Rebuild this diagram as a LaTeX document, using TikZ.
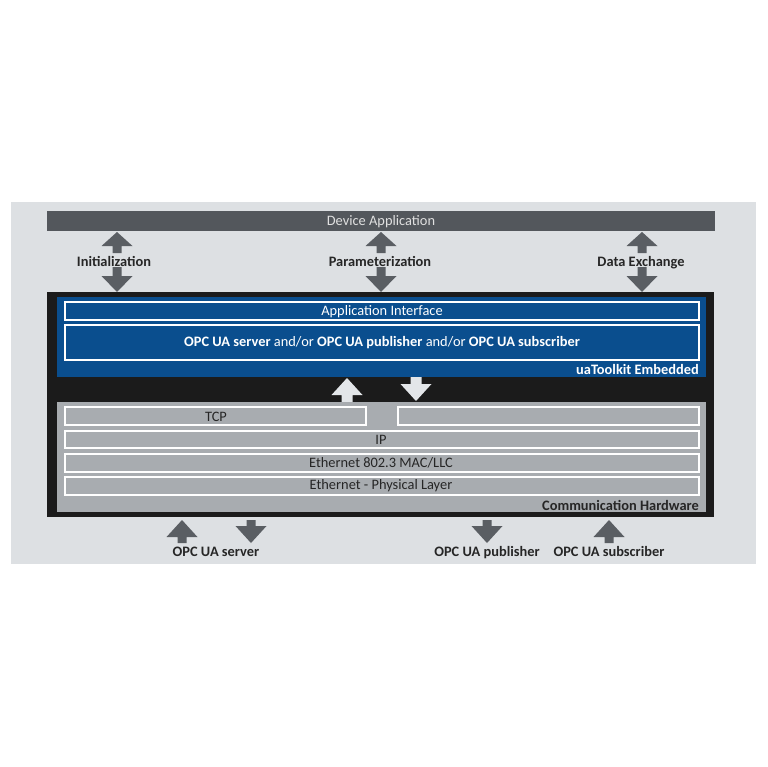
\documentclass[tikz,border=0pt]{standalone}
\usepackage{fontspec}
\setmainfont{Carlito}
\definecolor{panel}{HTML}{DDE0E3}
\definecolor{devbar}{HTML}{53575C}
\definecolor{arrgray}{HTML}{5A5E63}
\definecolor{blackbox}{HTML}{1B1B1B}
\definecolor{uablue}{HTML}{0A4E8E}
\definecolor{hwgray}{HTML}{A8ACB0}
\definecolor{lightarr}{HTML}{E3E6E9}
\definecolor{labeltxt}{HTML}{262626}
\newcommand{\uparrowat}[7]{% x, tip, headbase, bottom, halfhead, halfshaft, color
  \fill[#7] (#1,#2) -- ({#1+#5},#3) -- ({#1+#6},#3) -- ({#1+#6},#4) -- ({#1-#6},#4) -- ({#1-#6},#3) -- ({#1-#5},#3) -- cycle;}
\newcommand{\downarrowat}[7]{% x, top, headbase, tip, halfhead, halfshaft, color
  \fill[#7] (#1,#4) -- ({#1+#5},#3) -- ({#1+#6},#3) -- ({#1+#6},#2) -- ({#1-#6},#2) -- ({#1-#6},#3) -- ({#1-#5},#3) -- cycle;}
\tikzset{
  fs/.style={font=\fontsize{14.4}{16}\selectfont},
  fsb/.style={font=\fontsize{14.4}{16}\selectfont\bfseries},
  lbl/.style={fsb, text=labeltxt, inner sep=0pt, anchor=base},
  row/.style={draw=white, line width=1.6pt, inner sep=0pt},
}
\begin{document}
\begin{tikzpicture}[x=1pt,y=-1pt]
\useasboundingbox (0,0) rectangle (767,767);
\fill[white] (0,0) rectangle (767,767);
% panel
\fill[panel] (11,202) rectangle (756,564);
% device application bar
\fill[devbar] (47,211) rectangle (715,231);
\node[fs, text=white!88!black, inner sep=0pt] (dev) at (381,221.5) {Device Application};
% top arrows and labels
\foreach \xx in {117,381,642}{
  \uparrowat{\xx}{232}{246}{253}{15.5}{4.5}{arrgray}
  \downarrowat{\xx}{267}{276}{292}{15.5}{4.5}{arrgray}
}
\node[lbl] (init) at (114,266.5) {Initialization};
\node[lbl] (param) at (380,266.5) {Parameterization};
\node[lbl] (dx) at (641,266.5) {Data Exchange};
% black box
\fill[blackbox] (47,292) rectangle (714,517);
% blue box
\fill[uablue] (57,297) rectangle (706,377);
\draw[row] (65,302) rectangle (699,320);
\node[fs, text=white, inner sep=0pt] (api) at (382,311.5) {Application Interface};
\draw[row] (65,325) rectangle (699,360);
\node[fs, text=white, inner sep=0pt] (opc) at (382,343) {\textbf{OPC UA server} and/or \textbf{OPC UA publisher} and/or \textbf{OPC UA subscriber}};
\node[fsb, text=white, anchor=east, inner sep=0pt] (uat) at (699,369.5) {uaToolkit Embedded};
% middle arrows
\uparrowat{347}{378}{395}{402}{15.5}{5.5}{lightarr}
\downarrowat{416}{377}{384}{401}{15.5}{5.5}{lightarr}
% gray box
\fill[hwgray] (57,402) rectangle (706,512);
\draw[row] (65,407) rectangle (366,425);
\node[fs, text=labeltxt, inner sep=0pt] (tcp) at (216,416.5) {TCP};
\draw[row] (398,407) rectangle (699,425);
\draw[row] (65,431) rectangle (699,448);
\node[fs, text=labeltxt, inner sep=0pt] (ip) at (381,440) {IP};
\draw[row] (65,454) rectangle (699,472);
\node[fs, text=labeltxt, inner sep=0pt] (mac) at (381,463) {Ethernet 802.3 MAC/LLC};
\draw[row] (65,477) rectangle (699,495);
\node[fs, text=labeltxt, inner sep=0pt] (phy) at (381,486) {Ethernet - Physical Layer};
\node[fsb, text=labeltxt, anchor=east, inner sep=0pt] (ch) at (699,505) {Communication Hardware};
% bottom arrows
\uparrowat{182}{520}{537}{543}{15.5}{4.5}{arrgray}
\downarrowat{251}{520}{526}{543}{15.5}{4.5}{arrgray}
\downarrowat{487}{520}{526}{543}{15.5}{4.5}{arrgray}
\uparrowat{609}{520}{537}{543}{15.5}{4.5}{arrgray}
\node[lbl] (srv) at (216,556) {OPC UA server};
\node[lbl] (pub) at (487,556.5) {OPC UA publisher};
\node[lbl] (sub) at (609,556.5) {OPC UA subscriber};
\end{tikzpicture}
\end{document}
